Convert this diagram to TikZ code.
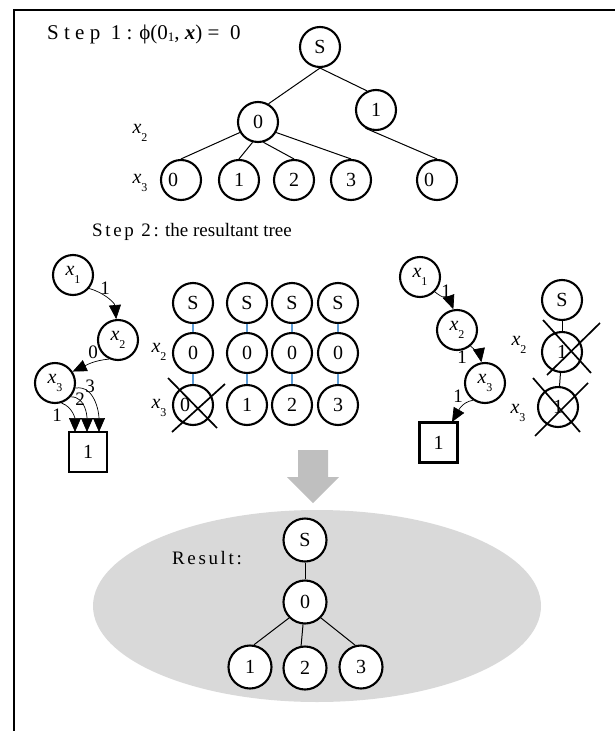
\documentclass[tikz,border=0pt]{standalone}
\usepackage{fontspec}
\setmainfont{Liberation Serif}
\newfontfamily\spacedA[LetterSpace=25]{Liberation Serif}
\newfontfamily\spacedB[LetterSpace=14]{Liberation Serif}
\usetikzlibrary{arrows.meta}
\definecolor{linkblue}{HTML}{5B9BD5}
\definecolor{arrowgray}{HTML}{BFBFBF}
\definecolor{resultgray}{HTML}{D9D9D9}
\newcommand\fs[1]{\fontsize{#1}{#1}\selectfont}
\newcommand\xv[1]{{\fs{20}\itshape x}\raisebox{-8pt}{\fs{12}#1}}
\newcommand\offl[1]{\rlap{\kern-13pt #1}}
\tikzset{
  vnode/.style={circle, draw, line width=2.1pt, minimum size=40pt, inner sep=0pt, fill=white, font=\fs{20}},
  rnode/.style={vnode, minimum size=43pt},
  leafbox/.style={draw, line width=2.3pt, minimum width=38pt, minimum height=40pt, inner sep=0pt, font=\fs{20}},
  tedge/.style={line width=1pt},
  bedge/.style={line width=1.3pt, linkblue},
  karr/.style={line width=0.7pt, -{Triangle[length=14pt,width=12pt]}},
  elbl/.style={font=\fs{19}, inner sep=0pt},
  vlbl/.style={inner sep=0pt},
  xcross/.style={line width=1.7pt},
}
\begin{document}
\begin{tikzpicture}[x=1pt,y=1pt]
\useasboundingbox (0,0) rectangle (615,-731);
% frame
\draw[line width=1.5pt] (14,-731) -- (14,-10) -- (615,-10);

% ---- step 1: the full tree
\node[anchor=base west, inner sep=0pt] (title1) at (47,-39)
  {\fs{21}{\spacedA Step 1:} ϕ(0\raisebox{-2pt}{\fs{13}1}, \textbf{\textit{x}}) = ~0};
\node[vnode] (S)  at (320,-47) {S};
\node[vnode] (n0) at (258,-122) {0};
\node[vnode] (n1) at (376,-110) {1};
\node[vnode] (l0) at (181,-180) {\offl{0}};
\node[vnode] (l1) at (239,-180) {1};
\node[vnode] (l2) at (294,-180) {2};
\node[vnode] (l3) at (351,-180) {3};
\node[vnode] (l4) at (437,-180) {\offl{0}};
\node[vlbl] (tx2) at (140,-133) {\xv{2}};
\node[vlbl] (tx3) at (140,-183) {\xv{3}};
\draw[tedge] (S.south) -- (n0.60);
\draw[tedge] (S.south) -- (n1.115);
\draw[tedge] (n0.-150) -- (l0.north);
\draw[tedge] (n0.-105) -- (l1.north);
\draw[tedge] (n0.-75) -- (l2.north);
\draw[tedge] (n0.-30) -- (l3.north);
\draw[tedge] (n1.-120) -- (l4.north);

% ---- step 2
\node[anchor=base west, inner sep=0pt] (title2) at (92,-236)
  {\fs{19}{\spacedB Step 2:} the resultant tree};

% left chain x1 -> x2 -> x3 -> terminal
\node[vnode] (ax1) at (73,-275) {\xv{1}};
\node[vnode] (ax2) at (118,-340) {\xv{2}};
\node[vnode] (ax3) at (55,-383) {\xv{3}};
\node[leafbox] (abox) at (88,-452) {1};
\coordinate (ta1) at (75,-432);
\coordinate (ta2) at (87,-432);
\coordinate (ta3) at (99,-432);
\draw[karr] (ax1.-40) to[out=-15,in=95] (ax2.95);
\draw[karr] (ax2.-115) to[out=185,in=25] (ax3.33);
\draw[karr] (ax3.-72) to[out=-20,in=90] (ta1);
\draw[karr] (ax3.-41) to[out=0,in=90] (ta2);
\draw[karr] (ax3.-14) to[out=10,in=90] (ta3);
\node[elbl] (al1) at (105,-288) {1};
\node[elbl] (al0) at (93,-352) {0};
\node[elbl] (ak1) at (57,-415) {1};
\node[elbl] (ak2) at (80,-399) {2};
\node[elbl] (ak3) at (90,-386) {3};

% four partial paths
\foreach \c/\xx in {1/193, 2/247, 3/292, 4/338}{
  \node[vnode] (gS\c) at (\xx,-303) {S};
  \node[vnode] (gA\c) at (\xx,-353) {0};
}
\node[vnode] (gB1) at (193,-405) {\offl{0}};
\node[vnode] (gB2) at (247,-405) {1};
\node[vnode] (gB3) at (292,-405) {2};
\node[vnode] (gB4) at (338,-405) {3};
\foreach \c in {1,2,3,4}{
  \draw[bedge] (gS\c) -- (gA\c);
  \draw[bedge] (gA\c) -- (gB\c);
}
\node[vlbl] (gx2) at (159,-352) {\xv{2}};
\node[vlbl] (gx3) at (159,-408) {\xv{3}};
\draw[xcross] (168,-378) -- (217,-428);
\draw[xcross] (225,-384) -- (172,-432);

% right chain x1 -> x2 -> x3 -> terminal
\node[vnode] (bx1) at (420,-277) {\xv{1}};
\node[vnode] (bx2) at (457,-330) {\xv{2}};
\node[vnode] (bx3) at (485,-383) {\xv{3}};
\node[leafbox] (bbox) at (438.5,-442.5) {1};
\coordinate (tb) at (452,-422);
\draw[karr] (bx1.-45) to[out=-40,in=110] (bx2.100);
\draw[karr] (bx2.-50) to[out=-40,in=100] (bx3.100);
\draw[karr] (bx3.-125) to[out=190,in=60] (tb);
\node[elbl] (bl1) at (446,-291) {1};
\node[elbl] (bl2) at (462,-357) {1};
\node[elbl] (bl3) at (458,-396) {1};

% rejected path
\node[vnode] (hS) at (562,-300) {S};
\node[vnode] (hA) at (562,-352) {1};
\node[vnode] (hB) at (558,-407) {1};
\draw[tedge] (hS) -- (hA);
\draw[tedge] (hA) -- (hB);
\node[vlbl] (hx2) at (519,-345) {\xv{2}};
\node[vlbl] (hx3) at (518,-413) {\xv{3}};
\draw[xcross] (543,-320) -- (591,-373);
\draw[xcross] (600,-323) -- (547,-375);
\draw[xcross] (533,-378) -- (580,-432);
\draw[xcross] (588,-383) -- (535,-436);

% ---- merge arrow and result
\fill[arrowgray] (298,-450) -- (328,-450) -- (328,-477) -- (339,-477)
  -- (313,-503) -- (287,-477) -- (298,-477) -- cycle;
\fill[resultgray] (317,-606) ellipse [x radius=224, y radius=96];
\node[inner sep=0pt] (rtitle) at (207,-558) {\fs{19}\spacedB Result:};
\node[rnode] (rS) at (305,-540) {S};
\node[rnode] (r0) at (305,-602) {0};
\node[rnode] (r1) at (250,-667) {1};
\node[rnode] (r2) at (305,-668) {2};
\node[rnode] (r3) at (361,-667) {3};
\draw[tedge] (rS) -- (r0);
\draw[tedge] (r0.-135) -- (r1.80);
\draw[tedge] (r0.-95) -- (r2.100);
\draw[tedge] (r0.-45) -- (r3.105);
\end{tikzpicture}
\end{document}
